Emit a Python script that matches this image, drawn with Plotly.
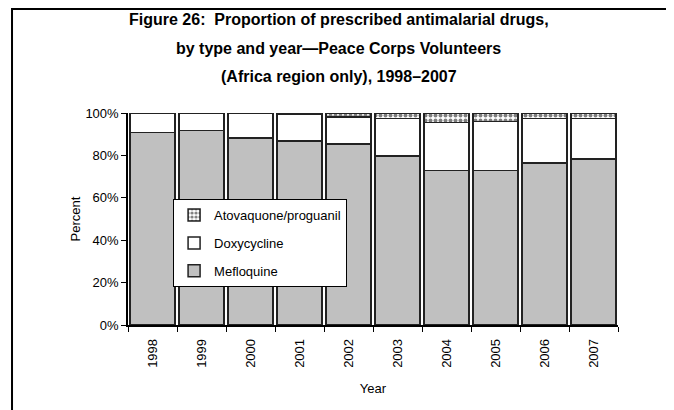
import plotly.graph_objects as go

anos = ['1998', '1999', '2000', '2001', '2002', '2003', '2004', '2005', '2006', '2007']
mefloquina = [90.9, 91.7, 88.2, 86.8, 85.4, 79.7, 72.8, 72.8, 76.3, 78.4]
atovaquona = [0.0, 0.0, 0.0, 0.5, 2.0, 2.5, 4.5, 4.0, 2.5, 2.5]
doxiciclina = [round(100 - m - a, 1) for m, a in zip(mefloquina, atovaquona)]

linhas_titulo = ['Figure 26:  Proportion of prescribed antimalarial drugs,',
                 'by type and year\u2014Peace Corps Volunteers',
                 '(Africa region only), 1998\u20132007']

fonte = 'Liberation Sans, Arial, sans-serif'
contorno = dict(color='#222222', width=1.5)

fig = go.Figure()
fig.add_trace(go.Bar(x=anos, y=mefloquina, name='Mefloquine', legendgroup='m', legendrank=3,
                     marker=dict(color='#c0c0c0', line=contorno)))
fig.add_trace(go.Bar(x=anos, y=doxiciclina, name='Doxycycline', legendgroup='d', legendrank=2,
                     marker=dict(color='white', line=contorno)))
fig.add_trace(go.Bar(x=anos, y=atovaquona, name='Atovaquone/proguanil', legendgroup='a',
                     legendrank=1,
                     marker=dict(color='white', line=contorno,
                                 pattern=dict(shape='.', fgcolor='black', bgcolor='white',
                                              size=5, solidity=0.5))))

fig.update_layout(
    barmode='stack', bargap=0.09,
    width=666, height=402,
    margin=dict(l=120, r=56, t=105, b=85),
    paper_bgcolor='white', plot_bgcolor='white',
    font=dict(family=fonte, size=12, color='black'),
    legend=dict(x=0.092, y=0.594, xanchor='left', yanchor='top',
                traceorder='grouped', tracegroupgap=8,
                bgcolor='white', bordercolor='black', borderwidth=1,
                font=dict(size=13)),
    xaxis=dict(title=dict(text='Year', standoff=17, font=dict(size=13)),
               tickangle=-90, showline=True, linecolor='black', linewidth=1.5,
               ticks='outside', tickson='boundaries', ticklen=5, tickcolor='black',
               ticklabelstandoff=7,
               tickfont=dict(size=13), showgrid=False),
    yaxis=dict(title=dict(text='Percent', standoff=2, font=dict(size=13)),
               range=[0, 100], tickvals=[0, 20, 40, 60, 80, 100],
               ticktext=['0%', '20%', '40%', '60%', '80%', '100%'],
               showline=True, linecolor='black', linewidth=1.5,
               ticks='outside', ticklen=5, tickcolor='black',
               tickfont=dict(size=13), showgrid=False, zeroline=False),
)

# titulo em tres linhas, com espacamento maior que o padrao
for texto, y in zip(linhas_titulo, [1.4387, 1.3066, 1.1745]):
    fig.add_annotation(text=texto, x=0.4306, y=y, xref='paper', yref='paper',
                       xanchor='center', yanchor='middle', showarrow=False,
                       font=dict(size=16, color='black', weight='bold'))

# moldura em volta da figura
fig.add_shape(type='rect', xref='paper', yref='paper',
              x0=-0.2367, x1=1.1, y0=-0.5, y1=1.4906,
              line=dict(color='black', width=2), layer='below')

fig.write_html('out.html')
